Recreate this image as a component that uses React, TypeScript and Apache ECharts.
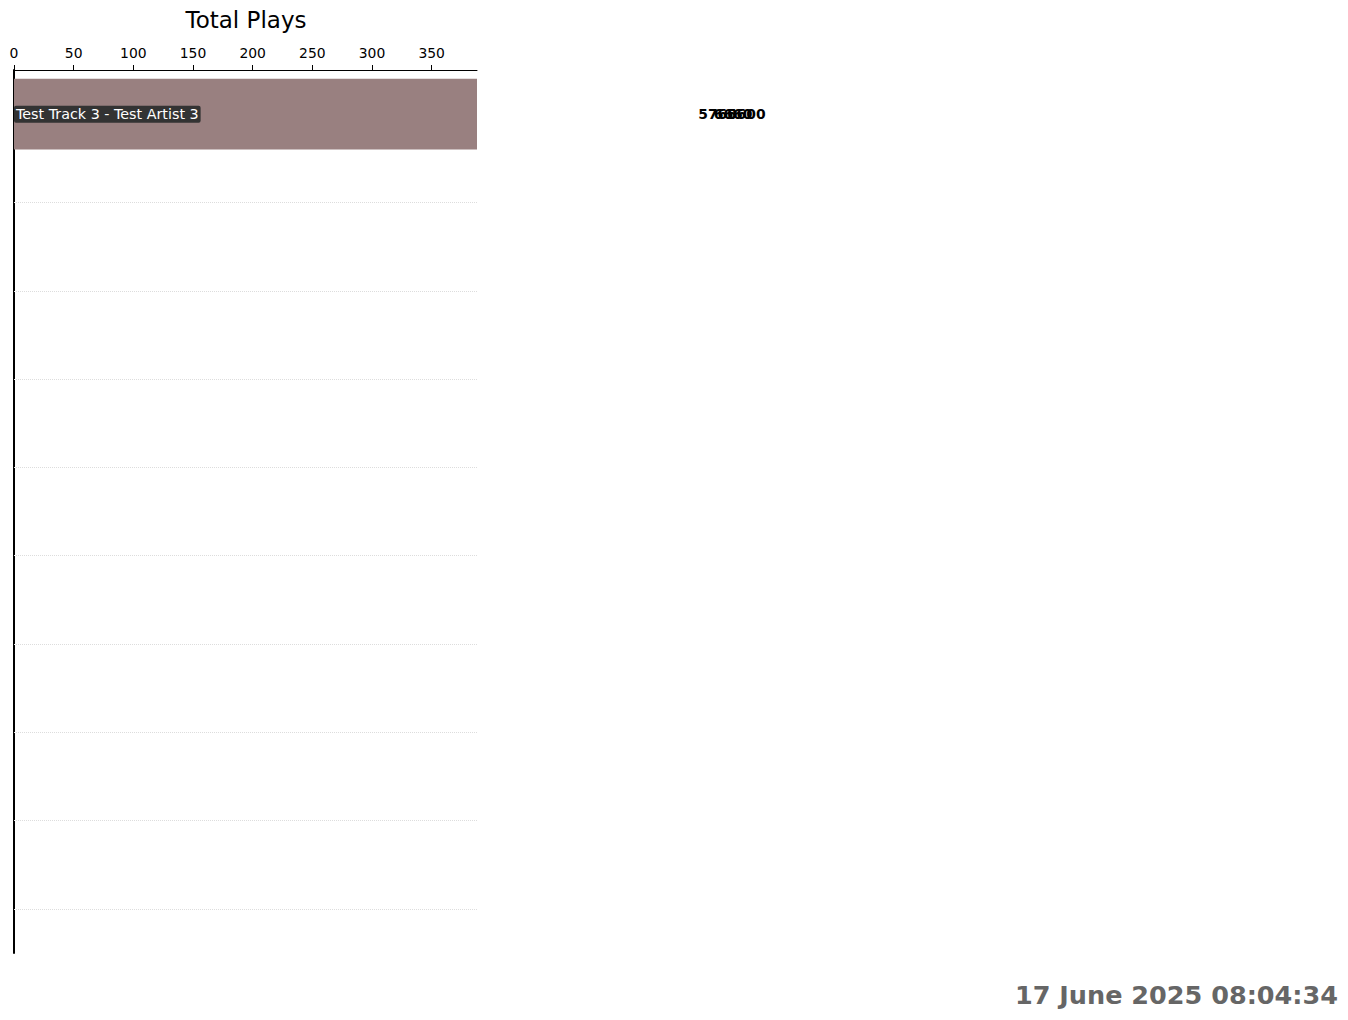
import React, { useEffect, useRef } from "react";
import * as echarts from "echarts";

const ranks = ["1", "2", "3", "4", "5", "6", "7", "8", "9", "10"];
const trackNames = ["Test Track 3 - Test Artist 3"];
const barValues = [573, null, null, null, null, null, null, null, null, null];
const valueLabelX = [573, 586, 597];
const valueLabelText = ["5760", "6660", "5600"];
const xTicks = [0, 50, 100, 150, 200, 250, 300, 350];
const xMax = 388;
const chartTitle = "Total Plays";
const dateText = "17 June 2025 08:04:34";

const FONT = "DejaVu Sans";

export default function App() {
  const ref = useRef<HTMLDivElement>(null);
  useEffect(() => {
    if (!ref.current) return;
    const chart = echarts.init(ref.current, null, { renderer: "svg" });
    chart.setOption({
      animation: false,
      textStyle: { fontFamily: FONT },
      title: {
        text: chartTitle,
        left: 241,
        top: 3,
        textAlign: "center",
        textStyle: { fontFamily: FONT, fontSize: 23, fontWeight: "normal", color: "#000" },
      },
      grid: { left: 14, right: 871, top: 70, bottom: 67, containLabel: false },
      xAxis: {
        type: "value",
        position: "top",
        min: 0,
        max: xMax,
        axisLine: { show: true, lineStyle: { color: "#000", width: 1 } },
        axisTick: { show: true, length: 5, customValues: xTicks, lineStyle: { color: "#000" } },
        axisLabel: {
          customValues: xTicks,
          fontFamily: FONT,
          fontSize: 13.9,
          color: "#000",
          margin: 10,
        },
        splitLine: { show: false },
      },
      yAxis: {
        type: "category",
        inverse: true,
        data: ranks,
        axisLine: { show: true, lineStyle: { color: "#000", width: 2 } },
        axisTick: { show: false },
        axisLabel: { show: false },
        splitLine: { show: false },
      },
      series: [
        {
          type: "bar",
          data: barValues,
          barCategoryGap: "20%",
          clip: true,
          itemStyle: { color: "#998080" },
          label: {
            show: true,
            position: "insideLeft",
            distance: 0,
            formatter: (p: any) => trackNames[p.dataIndex] ?? "",
            color: "#fff",
            fontFamily: FONT,
            fontSize: 14.3,
            backgroundColor: "#333333",
            padding: [2, 2, 1, 2],
            borderRadius: 2,
          },
          markLine: {
            silent: true,
            symbol: "none",
            label: { show: false },
            lineStyle: { color: "#dddddd", type: "dotted", width: 1 },
            data: ranks.slice(1).map((r) => ({ yAxis: r })),
          },
          z: 2,
        },
        {
          type: "scatter",
          clip: false,
          symbolSize: 1,
          itemStyle: { color: "rgba(0,0,0,0)" },
          data: valueLabelX.map((v) => [v, ranks[0]]),
          label: {
            show: true,
            position: "right",
            distance: 0,
            formatter: (p: any) => valueLabelText[p.dataIndex],
            color: "#000",
            opacity: 1,
            fontFamily: FONT,
            fontSize: 13.9,
            fontWeight: "bold",
          },
          labelLayout: { hideOverlap: false },
          z: 5,
        },
      ],
      graphic: [
        {
          type: "text",
          right: 10,
          top: 982,
          style: {
            text: dateText,
            fontFamily: FONT,
            fontSize: 25.5,
            fontWeight: "bold",
            fill: "#666666",
          },
        },
      ],
    });
    return () => chart.dispose();
  }, []);
  return (
    <div
      ref={ref}
      style={{ position: "fixed", left: 0, top: 0, width: 1348, height: 1020, background: "#fff" }}
    />
  );
}
